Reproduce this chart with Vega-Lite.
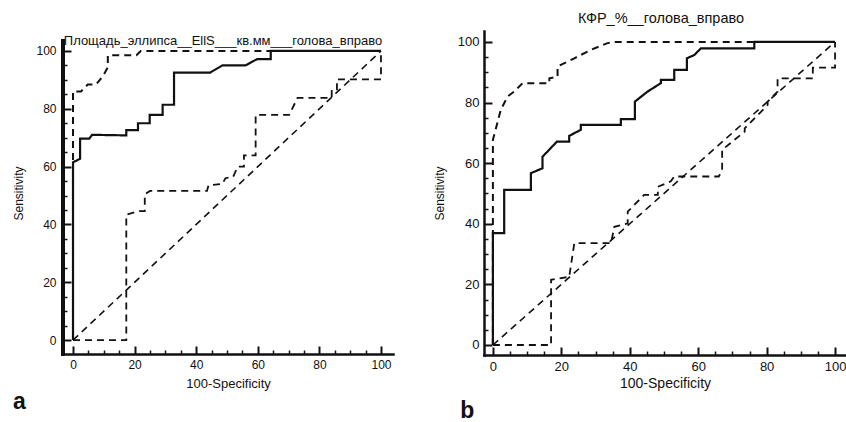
{
  "$schema": "https://vega.github.io/schema/vega-lite/v6.json",
  "background": "white",
  "padding": {"left": 12, "top": 10, "right": 0, "bottom": 0},
  "spacing": 40,
  "config": {"view": {"stroke": null}, "font": "Liberation Sans"},
  "hconcat": [
    {
      "title": {"text": "a", "orient": "bottom", "anchor": "start", "fontSize": 23, "fontWeight": "bold", "offset": 1, "font": "Liberation Sans", "color": "#111"},
      "vconcat": [
        {
          "width": 330,
          "height": 323,
          "title": {"text": "Площадь_эллипса__EllS___кв.мм___голова_вправо", "offset": -17, "fontSize": 13, "fontWeight": "normal", "font": "Liberation Sans", "dx": -5, "color": "#111"},
          "data": {"values": [
            {"s":"ROC","i":0,"x":0,"y":0},{"s":"ROC","i":1,"x":0,"y":61.5},{"s":"ROC","i":2,"x":2.3,"y":62.7},{"s":"ROC","i":3,"x":2.3,"y":69.7},{"s":"ROC","i":4,"x":5.3,"y":69.7},{"s":"ROC","i":5,"x":6.2,"y":71},{"s":"ROC","i":6,"x":17.3,"y":70.8},{"s":"ROC","i":7,"x":17.3,"y":72.6},{"s":"ROC","i":8,"x":21.1,"y":72.6},{"s":"ROC","i":9,"x":21.1,"y":75},{"s":"ROC","i":10,"x":24.9,"y":75},{"s":"ROC","i":11,"x":24.9,"y":77.9},{"s":"ROC","i":12,"x":29.1,"y":77.9},{"s":"ROC","i":13,"x":29.1,"y":81.4},{"s":"ROC","i":14,"x":32.8,"y":81.4},{"s":"ROC","i":15,"x":32.8,"y":92.5},{"s":"ROC","i":16,"x":44.5,"y":92.5},{"s":"ROC","i":17,"x":48.5,"y":95},{"s":"ROC","i":18,"x":56,"y":95},{"s":"ROC","i":19,"x":59.8,"y":97.2},{"s":"ROC","i":20,"x":64.2,"y":97.2},{"s":"ROC","i":21,"x":64.2,"y":100},{"s":"ROC","i":22,"x":100,"y":100},
            {"s":"U","i":0,"x":0,"y":0},{"s":"U","i":1,"x":0,"y":86},{"s":"U","i":2,"x":2.6,"y":86},{"s":"U","i":3,"x":4.8,"y":88.4},{"s":"U","i":4,"x":7.5,"y":88.4},{"s":"U","i":5,"x":9.7,"y":91.3},{"s":"U","i":6,"x":11.3,"y":94.3},{"s":"U","i":7,"x":11.3,"y":98.5},{"s":"U","i":8,"x":20.6,"y":98.5},{"s":"U","i":9,"x":22,"y":100},{"s":"U","i":10,"x":100,"y":100},
            {"s":"L","i":0,"x":0,"y":0},{"s":"L","i":1,"x":17.3,"y":0},{"s":"L","i":2,"x":17.3,"y":43.4},{"s":"L","i":3,"x":21.5,"y":44.6},{"s":"L","i":4,"x":23.3,"y":44.6},{"s":"L","i":5,"x":23.3,"y":50.4},{"s":"L","i":6,"x":25,"y":51.6},{"s":"L","i":7,"x":43.5,"y":51.6},{"s":"L","i":8,"x":44,"y":53.5},{"s":"L","i":9,"x":48.5,"y":54},{"s":"L","i":10,"x":49.5,"y":56},{"s":"L","i":11,"x":52,"y":56.5},{"s":"L","i":12,"x":53.5,"y":60},{"s":"L","i":13,"x":55.5,"y":60},{"s":"L","i":14,"x":55.5,"y":63.9},{"s":"L","i":15,"x":59.3,"y":63.9},{"s":"L","i":16,"x":59.3,"y":77.9},{"s":"L","i":17,"x":70.2,"y":77.9},{"s":"L","i":18,"x":72.9,"y":83.8},{"s":"L","i":19,"x":84,"y":83.8},{"s":"L","i":20,"x":84,"y":86.7},{"s":"L","i":21,"x":85.7,"y":86.7},{"s":"L","i":22,"x":85.7,"y":90.2},{"s":"L","i":23,"x":100,"y":90.2},{"s":"L","i":24,"x":100,"y":100},
            {"s":"D","i":0,"x":0,"y":0},{"s":"D","i":1,"x":100,"y":100}
          ]},
          "layer": [
            {
              "mark": {"type": "line", "color": "#111"},
              "encoding": {
                "x": {"field": "x", "type": "quantitative", "scale": {"domain": [-3.25, 103.9], "nice": false, "zero": false},
                  "axis": {"orient": "bottom", "values": [0,20,40,60,80,100], "labelOverlap": false, "labelFlush": false, "grid": false, "title": "100-Specificity",
                    "domainColor": "#111", "domainWidth": 2.5, "domainCap": "square", "tickColor": "#111", "tickWidth": 2, "tickSize": -8,
                    "labelPadding": 13, "labelFont": "Liberation Sans", "labelFontSize": 12, "labelColor": "#111",
                    "titleFont": "Liberation Sans", "titleFontSize": 13, "titleFontWeight": "normal", "titleColor": "#111", "titlePadding": 7}},
                "y": {"field": "y", "type": "quantitative", "scale": {"domain": [-4.8, 106.9], "nice": false, "zero": false},
                  "axis": {"orient": "left", "values": [0,20,40,60,80,100], "labelOverlap": false, "labelFlush": false, "grid": false, "title": "Sensitivity", "titleY": 162,
                    "domain": false, "tickColor": "#111", "tickWidth": 2, "tickSize": -8,
                    "labelPadding": 15, "labelFont": "Liberation Sans", "labelFontSize": 12, "labelColor": "#111",
                    "titleFont": "Liberation Sans", "titleFontSize": 12, "titleFontWeight": "normal", "titleColor": "#111", "titlePadding": 10}},
                "detail": {"field": "s", "type": "nominal"},
                "order": {"field": "i", "type": "quantitative"},
                "strokeDash": {"field": "s", "type": "nominal", "scale": {"domain": ["ROC","U","L","D"], "range": [[1,0],[7,5],[7,5],[7,5]]}, "legend": null},
                "strokeWidth": {"field": "s", "type": "nominal", "scale": {"domain": ["ROC","U","L","D"], "range": [2.2,1.6,1.6,1.6]}, "legend": null}
              }
            },
            {
              "mark": {"type": "point", "opacity": 0},
              "encoding": {
                "x": {"field": "x", "type": "quantitative", "scale": {"domain": [-3.25, 103.9], "nice": false, "zero": false},
                  "axis": {"orient": "bottom", "values": [5,10,15,25,30,35,45,50,55,65,70,75,85,90,95], "labels": false, "domain": false, "grid": false, "title": null, "tickColor": "#111", "tickWidth": 1.5, "tickSize": -4}},
                "y": {"field": "y", "type": "quantitative", "scale": {"domain": [-4.8, 106.9], "nice": false, "zero": false},
                  "axis": {"orient": "left", "values": [5,10,15,25,30,35,45,50,55,65,70,75,85,90,95], "labels": false, "domain": false, "grid": false, "title": null, "tickColor": "#111", "tickWidth": 1.5, "tickSize": -4}}
              }
            },
            {
              "mark": {"type": "rule", "color": "#111", "strokeWidth": 2.5, "strokeCap": "square"},
              "encoding": {
                "x": {"datum": -3.25, "type": "quantitative", "axis": null},
                "y": {"datum": -4.8, "type": "quantitative", "axis": null},
                "y2": {"datum": 103.5}
              }
            }
          ],
          "resolve": {"axis": {"x": "independent", "y": "independent"}}
        }
      ]
    },
    {
      "title": {"text": "b", "orient": "bottom", "anchor": "start", "fontSize": 23, "fontWeight": "bold", "offset": 10, "dx": 27, "font": "Liberation Sans", "color": "#111"},
      "vconcat": [
        {
          "width": 362,
          "height": 324,
          "title": {"text": "КФР_%__голова_вправо", "offset": 5, "fontSize": 14.5, "fontWeight": "normal", "font": "Liberation Sans", "dx": -4, "color": "#111"},
          "data": {"values": [
            {"s":"ROC","i":0,"x":0,"y":0},{"s":"ROC","i":1,"x":0,"y":36.9},{"s":"ROC","i":2,"x":3.3,"y":36.9},{"s":"ROC","i":3,"x":3.3,"y":51.2},{"s":"ROC","i":4,"x":11.1,"y":51.2},{"s":"ROC","i":5,"x":11.1,"y":56.7},{"s":"ROC","i":6,"x":14.5,"y":58.3},{"s":"ROC","i":7,"x":14.5,"y":62.1},{"s":"ROC","i":8,"x":18.7,"y":67.1},{"s":"ROC","i":9,"x":22.3,"y":67.1},{"s":"ROC","i":10,"x":22.3,"y":69},{"s":"ROC","i":11,"x":25.7,"y":71},{"s":"ROC","i":12,"x":25.7,"y":72.6},{"s":"ROC","i":13,"x":37.4,"y":72.6},{"s":"ROC","i":14,"x":37.4,"y":74.5},{"s":"ROC","i":15,"x":41.5,"y":74.5},{"s":"ROC","i":16,"x":41.5,"y":80.3},{"s":"ROC","i":17,"x":45.2,"y":83.6},{"s":"ROC","i":18,"x":49.1,"y":86.4},{"s":"ROC","i":19,"x":49.1,"y":87.5},{"s":"ROC","i":20,"x":53,"y":87.5},{"s":"ROC","i":21,"x":53,"y":90.8},{"s":"ROC","i":22,"x":56.7,"y":90.8},{"s":"ROC","i":23,"x":56.7,"y":94.6},{"s":"ROC","i":24,"x":58.9,"y":95.7},{"s":"ROC","i":25,"x":60.8,"y":97.9},{"s":"ROC","i":26,"x":76.4,"y":97.9},{"s":"ROC","i":27,"x":76.4,"y":100},{"s":"ROC","i":28,"x":100,"y":100},
            {"s":"U","i":0,"x":0,"y":0},{"s":"U","i":1,"x":0,"y":67.7},{"s":"U","i":2,"x":0.9,"y":71.5},{"s":"U","i":3,"x":2.3,"y":77.6},{"s":"U","i":4,"x":4.3,"y":82},{"s":"U","i":5,"x":6.2,"y":83.6},{"s":"U","i":6,"x":8.7,"y":86.4},{"s":"U","i":7,"x":16.5,"y":86.4},{"s":"U","i":8,"x":16.5,"y":88},{"s":"U","i":9,"x":18.9,"y":88.5},{"s":"U","i":10,"x":18.9,"y":91.9},{"s":"U","i":11,"x":23.8,"y":94.6},{"s":"U","i":12,"x":28.7,"y":97.4},{"s":"U","i":13,"x":33.5,"y":99.6},{"s":"U","i":14,"x":36,"y":100},{"s":"U","i":15,"x":100,"y":100},
            {"s":"L","i":0,"x":0,"y":0},{"s":"L","i":1,"x":17,"y":0},{"s":"L","i":2,"x":17,"y":21.5},{"s":"L","i":3,"x":22.3,"y":22.5},{"s":"L","i":4,"x":23.8,"y":33.6},{"s":"L","i":5,"x":34.5,"y":33.6},{"s":"L","i":6,"x":35.5,"y":39},{"s":"L","i":7,"x":39.4,"y":40.1},{"s":"L","i":8,"x":39.4,"y":44},{"s":"L","i":9,"x":44.2,"y":49.5},{"s":"L","i":10,"x":48.2,"y":49.5},{"s":"L","i":11,"x":48.2,"y":52.2},{"s":"L","i":12,"x":52,"y":54},{"s":"L","i":13,"x":53,"y":55.6},{"s":"L","i":14,"x":66,"y":55.6},{"s":"L","i":15,"x":67,"y":57.5},{"s":"L","i":16,"x":67,"y":64.4},{"s":"L","i":17,"x":73.6,"y":70.4},{"s":"L","i":18,"x":73.6,"y":71.5},{"s":"L","i":19,"x":80.3,"y":79.2},{"s":"L","i":20,"x":80.3,"y":80.3},{"s":"L","i":21,"x":83.2,"y":83.6},{"s":"L","i":22,"x":83.2,"y":88},{"s":"L","i":23,"x":93.5,"y":88},{"s":"L","i":24,"x":93.5,"y":91.5},{"s":"L","i":25,"x":100,"y":91.5},{"s":"L","i":26,"x":100,"y":100},
            {"s":"D","i":0,"x":0,"y":0},{"s":"D","i":1,"x":100,"y":100}
          ]},
          "layer": [
            {
              "mark": {"type": "line", "color": "#111"},
              "encoding": {
                "x": {"field": "x", "type": "quantitative", "scale": {"domain": [-2.6, 103.2], "nice": false, "zero": false},
                  "axis": {"orient": "bottom", "values": [0,20,40,60,80,100], "labelOverlap": false, "labelFlush": false, "grid": false, "title": "100-Specificity",
                    "domainColor": "#111", "domainWidth": 2.5, "domainCap": "square", "tickColor": "#111", "tickWidth": 2, "tickSize": -8,
                    "labelPadding": 13, "labelFont": "Liberation Sans", "labelFontSize": 13, "labelColor": "#111",
                    "titleFont": "Liberation Sans", "titleFontSize": 14, "titleFontWeight": "normal", "titleColor": "#111", "titlePadding": 3}},
                "y": {"field": "y", "type": "quantitative", "scale": {"domain": [-3.3, 103.6], "nice": false, "zero": false},
                  "axis": {"orient": "left", "values": [0,20,40,60,80,100], "labelOverlap": false, "labelFlush": false, "grid": false, "title": "Sensitivity",
                    "domainColor": "#111", "domainWidth": 2.5, "domainCap": "square", "tickColor": "#111", "tickWidth": 2, "tickSize": -8,
                    "labelPadding": 13, "labelFont": "Liberation Sans", "labelFontSize": 13, "labelColor": "#111",
                    "titleFont": "Liberation Sans", "titleFontSize": 12, "titleFontWeight": "normal", "titleColor": "#111", "titlePadding": 11}},
                "detail": {"field": "s", "type": "nominal"},
                "order": {"field": "i", "type": "quantitative"},
                "strokeDash": {"field": "s", "type": "nominal", "scale": {"domain": ["ROC","U","L","D"], "range": [[1,0],[7,5],[7,5],[7,5]]}, "legend": null},
                "strokeWidth": {"field": "s", "type": "nominal", "scale": {"domain": ["ROC","U","L","D"], "range": [2.2,1.6,1.6,1.6]}, "legend": null}
              }
            },
            {
              "mark": {"type": "point", "opacity": 0},
              "encoding": {
                "x": {"field": "x", "type": "quantitative", "scale": {"domain": [-2.6, 103.2], "nice": false, "zero": false},
                  "axis": {"orient": "bottom", "values": [5,10,15,25,30,35,45,50,55,65,70,75,85,90,95], "labels": false, "domain": false, "grid": false, "title": null, "tickColor": "#111", "tickWidth": 1.5, "tickSize": -4}},
                "y": {"field": "y", "type": "quantitative", "scale": {"domain": [-3.3, 103.6], "nice": false, "zero": false},
                  "axis": {"orient": "left", "values": [5,10,15,25,30,35,45,50,55,65,70,75,85,90,95], "labels": false, "domain": false, "grid": false, "title": null, "tickColor": "#111", "tickWidth": 1.5, "tickSize": -4}}
              }
            }
          ],
          "resolve": {"axis": {"x": "independent", "y": "independent"}}
        }
      ]
    }
  ]
}
